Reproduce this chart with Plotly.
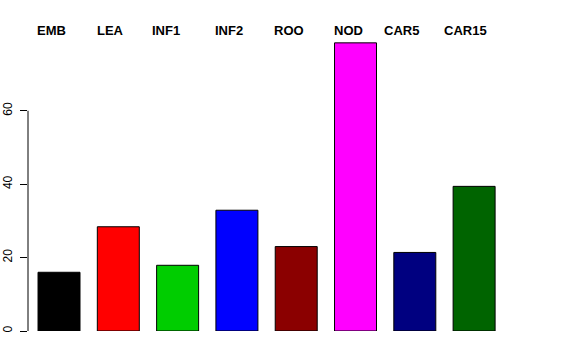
import plotly.graph_objects as go

categories = ["EMB", "LEA", "INF1", "INF2", "ROO", "NOD", "CAR5", "CAR15"]
values = [16.0, 28.4, 17.9, 32.9, 23.0, 78.5, 21.4, 39.4]
colors = ["#000000", "#FF0000", "#00CD00", "#0000FF", "#8B0000", "#FF00FF", "#000080", "#006400"]
label_offsets = [-0.12, -0.14, -0.19, -0.14, -0.13, -0.12, -0.23, -0.14]
y_ticks = [0, 20, 40, 60]

xpos = list(range(len(categories)))

fig = go.Figure()
fig.add_trace(go.Bar(
    x=xpos, y=values, width=0.708,
    marker=dict(color=colors, line=dict(color="black", width=1)),
    hoverinfo="skip",
))

for i, (c, off) in enumerate(zip(categories, label_offsets)):
    fig.add_annotation(x=i + off, y=1.0, xref="x", yref="paper", text="<b>%s</b>" % c,
                       showarrow=False, xanchor="center", yanchor="middle",
                       font=dict(family="Liberation Sans, Arial, sans-serif", size=13, color="black"))

fig.add_shape(type="line", xref="paper", yref="y", x0=0, x1=0, y0=0, y1=60,
              line=dict(color="black", width=1))

fig.update_layout(
    width=576, height=360,
    margin=dict(l=28, r=28, t=30, b=29, autoexpand=False),
    paper_bgcolor="white", plot_bgcolor="white",
    showlegend=False,
    font=dict(family="Liberation Sans, Arial, sans-serif", size=12, color="black"),
    xaxis=dict(range=[-0.523, 8.246], showticklabels=False, showgrid=False,
               zeroline=False, showline=False, ticks="", automargin=False),
    yaxis=dict(range=[0, 82], tickvals=y_ticks, ticktext=[str(t) for t in y_ticks],
               tickangle=-90, ticks="outside", ticklen=7, tickcolor="black",
               ticklabelstandoff=3,
               showgrid=False, zeroline=False, showline=False, automargin=False,
               tickfont=dict(size=12, color="black")),
)

fig.write_html("out.html", config={"displayModeBar": False, "staticPlot": True},
               post_script="document.body.style.margin='0';")
